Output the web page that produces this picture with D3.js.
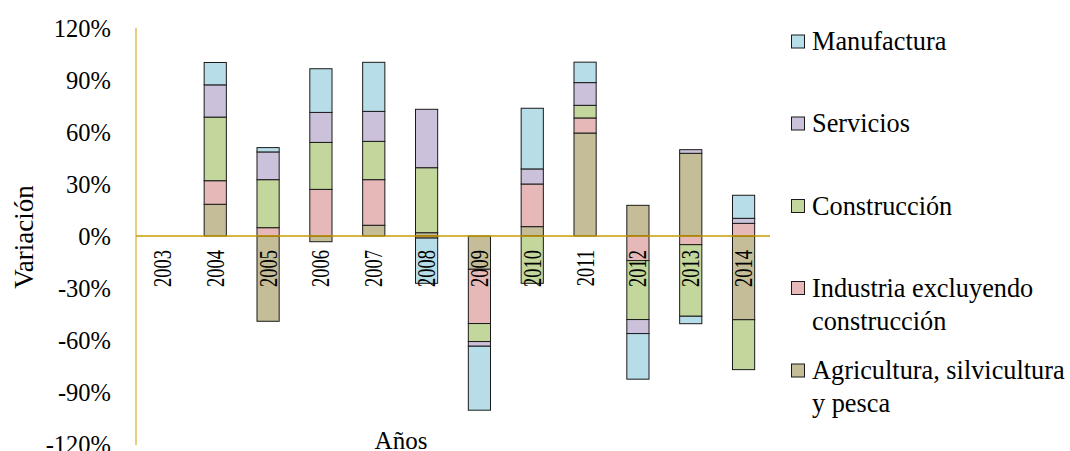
<!DOCTYPE html>
<html><head><meta charset="utf-8">
<script src="https://cdn.jsdelivr.net/npm/d3@7"></script>
<style>body{margin:0;background:#fff}svg{display:block}text{font-family:"Liberation Serif","Times New Roman",serif;fill:#000}</style>
</head><body><svg id="c" width="1070" height="451"></svg>
<script>
const years = ["2003","2004","2005","2006","2007","2008","2009","2010","2011","2012","2013","2014"];
const agricultura  = [0, 18.3, -49.2, -3.3, 6.2, 1.9, -19.2, 5.4, 59.4, 17.7, 47.7, -48.3];
const industria    = [0, 13.6, 4.8, 26.9, 26.3, -1.2, -31.3, 24.6, 8.7, -14.2, -5.0, 7.3];
const construccion = [0, 36.7, 27.7, 27.1, 22.1, 37.5, -10.4, -27.3, 7.3, -34.0, -41.3, -28.8];
const servicios    = [0, 18.6, 16.0, 17.3, 17.3, 33.7, -2.7, 8.7, 13.1, -8.1, 2.1, 2.9];
const manufactura  = [0, 12.9, 2.5, 25.2, 28.3, -26.1, -36.9, 35.0, 11.8, -26.3, -4.3, 13.3];
const yTicks = [-120, -90, -60, -30, 0, 30, 60, 90, 120];
const seriesNames = ["Agricultura, silvicultura y pesca", "Industria excluyendo construcción", "Construcción", "Servicios", "Manufactura"];
const seriesKeys = ["agr", "ind", "con", "ser", "man"];
const colors = {agr:"#C4BD97", ind:"#E6B9B8", con:"#C3D69B", ser:"#CCC1DA", man:"#B7DEE8"};

const rows = years.map((y,i)=>({year:y, agr:agricultura[i], ind:industria[i], con:construccion[i], ser:servicios[i], man:manufactura[i]}));
const svg = d3.select("#c");
const x = d3.scaleBand().domain(years).range([136,770]).paddingInner(0.58).paddingOuter(0.29);
const y = d3.scaleLinear().domain([-120,120]).range([444,28]);

const stack = d3.stack().keys(seriesKeys).order(d3.stackOrderNone).offset(d3.stackOffsetDiverging);
const stacked = stack(rows);

// y axis labels
const yAxis = d3.axisLeft(y).tickValues(yTicks).tickFormat(d=>d+"%").tickSize(0).tickPadding(0);
const ga = svg.append("g").attr("transform","translate(111,0)").call(yAxis);
ga.select(".domain").remove();
ga.attr("font-family",null);
ga.selectAll("text").attr("font-size",24.5).attr("font-family","Liberation Serif").attr("fill","#000").attr("dy","0.33em");

// y axis line
svg.append("line").attr("x1",136).attr("x2",136).attr("y1",y(120)).attr("y2",445).attr("stroke","#E0BF55").attr("stroke-width",1.5);

// bars
svg.append("g").selectAll("g").data(stacked).join("g").attr("fill",d=>colors[d.key])
  .selectAll("rect").data(d=>d).join("rect")
  .attr("x",d=>x(d.data.year)).attr("width",x.bandwidth())
  .attr("y",d=>y(Math.max(d[0],d[1]))).attr("height",d=>Math.abs(y(d[0])-y(d[1])))
  .attr("stroke","#1a1a1a").attr("stroke-width",1);

// zero line
svg.append("line").attr("x1",136).attr("x2",770).attr("y1",y(0)).attr("y2",y(0)).attr("stroke","#C89B00").attr("stroke-width",1.5);

// year labels
svg.append("g").selectAll("text").data(years).join("text")
  .attr("transform",d=>`translate(${x(d)+x.bandwidth()/2+8.5},250) rotate(-90) scale(1,1.33)`)
  .attr("text-anchor","end").attr("font-size",18.5).text(d=>d);

// axis titles
svg.append("text").attr("transform","translate(33,237) rotate(-90)").attr("text-anchor","middle").attr("font-size",27).text("Variación");
svg.append("text").attr("x",401).attr("y",449).attr("text-anchor","middle").attr("font-size",25).text("Años");

// legend
const legendItems = [
  {key:"man", lines:["Manufactura"], base:50},
  {key:"ser", lines:["Servicios"], base:132},
  {key:"con", lines:["Construcción"], base:214.5},
  {key:"ind", lines:["Industria excluyendo","construcción"], base:296.5},
  {key:"agr", lines:["Agricultura, silvicultura","y pesca"], base:379}
];
const lg = svg.append("g").selectAll("g").data(legendItems).join("g");
lg.append("rect").attr("x",791.5).attr("y",d=>d.base-15).attr("width",13).attr("height",13)
  .attr("fill",d=>colors[d.key]).attr("stroke","#1a1a1a").attr("stroke-width",1);
lg.append("text").attr("x",812).attr("y",d=>d.base).attr("font-size",26.3)
  .selectAll("tspan").data(d=>d.lines).join("tspan").attr("x",812).attr("dy",(d,i)=>i?33:0).text(d=>d);
</script></body></html>
